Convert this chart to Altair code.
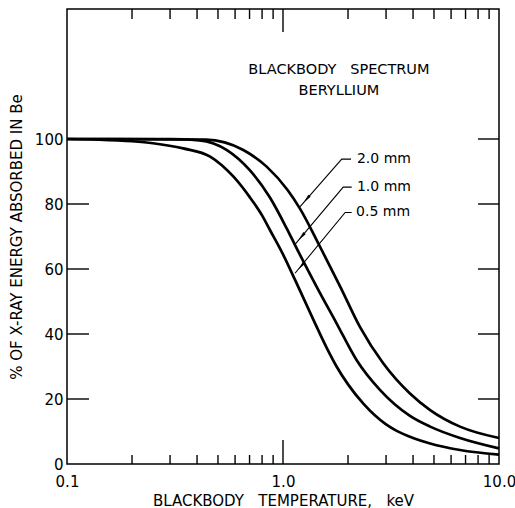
import altair as alt
import pandas as pd

# ---- curve data: blackbody temperature (keV) vs % of X-ray energy absorbed ----
T_05 = [0.1, 0.14, 0.2, 0.25, 0.345, 0.46, 0.59, 0.70, 0.80, 0.87, 1.0, 1.14, 1.38, 1.6, 1.77, 2.0, 2.36, 3.0, 3.36, 4.0, 4.8, 6.6, 10.0]
P_05 = [100, 99.8, 99.3, 98.7, 97.1, 94.6, 88.4, 82.2, 76.5, 72.0, 64.5, 56.5, 44.5, 35.5, 30.0, 24.5, 18.5, 12.2, 10.2, 8.0, 6.3, 4.3, 2.9]
T_10 = [0.1, 0.3, 0.41, 0.55, 0.70, 0.87, 1.04, 1.14, 1.43, 1.77, 2.19, 2.81, 3.87, 4.8, 6.6, 10.0]
P_10 = [100, 100, 99.6, 96.6, 90.5, 82.0, 72.5, 67.2, 54.6, 43.3, 32.0, 22.8, 14.8, 11.5, 8.0, 4.8]
T_20 = [0.1, 0.44, 0.655, 0.84, 1.05, 1.2, 1.48, 1.84, 2.27, 2.91, 3.87, 4.8, 6.6, 10.0]
P_20 = [100, 99.8, 96.6, 91.5, 84.3, 78.5, 67.0, 54.6, 42.2, 31.0, 21.7, 16.6, 11.5, 8.0]
SERIES = ["0.5 mm", "1.0 mm", "2.0 mm"]

# ---- axes ----
X_LABELS = [0.1, 1.0, 10.0]
Y_LABELS = [0, 20, 40, 60, 80, 100]
X_MINOR = [0.2, 0.3, 0.4, 0.5, 0.6, 0.7, 0.8, 0.9, 2, 3, 4, 5, 6, 7, 8, 9]
X_MAJOR = [1.0]
Y_TICKS = [20, 40, 60, 80, 100]
NB = "\u00a0"
X_TITLE = f"BLACKBODY{NB}{NB}{NB}TEMPERATURE,{NB}{NB}{NB}keV"
Y_TITLE = f"%{NB}OF{NB}X-RAY{NB}ENERGY{NB}ABSORBED{NB}IN{NB}Be"

# ---- annotations ----
HEAD_TEXT = [f"BLACKBODY{NB}{NB}{NB}SPECTRUM", "BERYLLIUM"]
HEAD_X = [1.815, 1.815]
HEAD_Y = [121.2, 114.8]

LEAD_LABEL = ["2.0 mm", "1.0 mm", "0.5 mm"]
LEAD_TEXT_X = [2.2, 2.2, 2.18]
LEAD_TEXT_Y = [93.8, 85.2, 77.4]
LEAD_START_X = [2.065, 2.08, 2.08]
LEAD_CORNER_X = [1.87, 1.90, 1.94]
LEAD_END_X = [1.20, 1.137, 1.137]
LEAD_END_Y = [79.2, 67.6, 58.7]
ARROW_X = [1.286, 1.219, 1.217]
ARROW_Y = [81.5, 70.0, 61.0]

W, H = 432, 455
FONT = "DejaVu Sans"

curves = pd.DataFrame(
    [{"series": s, "x": t, "y": p}
     for s, ts, ps in zip(SERIES, [T_05, T_10, T_20], [P_05, P_10, P_20])
     for t, p in zip(ts, ps)]
)
leaders = pd.DataFrame(
    [{"label": lab, "x": xx, "y": yy, "o": i}
     for lab, xs, xc, xe, ty, ey in zip(LEAD_LABEL, LEAD_START_X, LEAD_CORNER_X, LEAD_END_X, LEAD_TEXT_Y, LEAD_END_Y)
     for i, (xx, yy) in enumerate([(xs, ty), (xc, ty), (xe, ey)])]
)
lead_text = pd.DataFrame({"x": LEAD_TEXT_X, "y": LEAD_TEXT_Y, "t": LEAD_LABEL})
arrows = pd.DataFrame({"x": ARROW_X, "y": ARROW_Y})
heads = pd.DataFrame({"x": HEAD_X, "y": HEAD_Y, "t": HEAD_TEXT})
xminor = pd.DataFrame({"x": X_MINOR})
xmajor = pd.DataFrame({"x": X_MAJOR})
yticks = pd.DataFrame({"y": Y_TICKS})

x_scale = alt.Scale(type="log", domain=[0.1, 10], nice=False)
y_scale = alt.Scale(domain=[0, 140], nice=False, zero=False)
x_axis = alt.Axis(values=X_LABELS, format=".1f", labelFlush=False, ticks=False, domain=False,
                  grid=False, labelPadding=10, titlePadding=4, title=X_TITLE)
y_axis = alt.Axis(values=Y_LABELS, ticks=False, domain=False, grid=False,
                  labelPadding=4, titlePadding=10, title=Y_TITLE)


def XE():
    return alt.X("x:Q", scale=x_scale, axis=x_axis)


def YE():
    return alt.Y("y:Q", scale=y_scale, axis=y_axis)


lines = alt.Chart(curves).mark_line(color="black", strokeWidth=2.7, interpolate="monotone").encode(
    x=XE(), y=YE(), detail="series:N"
)

tick_style = dict(color="black", strokeWidth=1.4)
bot_minor = alt.Chart(xminor).mark_rule(**tick_style).encode(x=XE(), y=alt.value(H), y2=alt.value(H - 9))
top_minor = alt.Chart(xminor).mark_rule(**tick_style).encode(x=XE(), y=alt.value(0), y2=alt.value(10))
bot_major = alt.Chart(xmajor).mark_rule(**tick_style).encode(x=XE(), y=alt.value(H), y2=alt.value(H - 24))
top_major = alt.Chart(xmajor).mark_rule(**tick_style).encode(x=XE(), y=alt.value(0), y2=alt.value(23))
left_y = alt.Chart(yticks).mark_rule(**tick_style).encode(y=YE(), x=alt.value(0), x2=alt.value(22))
right_y = alt.Chart(yticks).mark_rule(**tick_style).encode(y=YE(), x=alt.value(W), x2=alt.value(W - 21))

lead_lines = alt.Chart(leaders).mark_line(color="black", strokeWidth=1.1).encode(
    x=XE(), y=YE(), detail="label:N", order="o:Q"
)
lead_labels = alt.Chart(lead_text).mark_text(
    align="left", baseline="middle", font=FONT, fontSize=14, color="black"
).encode(x=XE(), y=YE(), text="t:N")
arrow_heads = alt.Chart(arrows).mark_point(
    shape="M0,-1L0.35,1L-0.35,1Z", filled=True, size=80, angle=221, color="black", opacity=1
).encode(x=XE(), y=YE())
head_text = alt.Chart(heads).mark_text(
    align="center", baseline="middle", font=FONT, fontSize=14.5, color="black"
).encode(x=XE(), y=YE(), text="t:N")

chart = alt.layer(
    lines, bot_minor, top_minor, bot_major, top_major, left_y, right_y,
    lead_lines, lead_labels, arrow_heads, head_text
).properties(
    width=W, height=H,
    autosize=alt.AutoSizeParams(type="none"),
    padding={"left": 67, "top": 9, "right": 16, "bottom": 44},
    background="white",
).configure_view(
    stroke="black", strokeWidth=1.5
).configure_axis(
    labelFont=FONT, titleFont=FONT, labelFontSize=15, titleFontSize=15,
    titleFontWeight="normal", labelColor="black", titleColor="black"
)

chart.save("out.html", embed_options={"renderer": "svg", "actions": False})
